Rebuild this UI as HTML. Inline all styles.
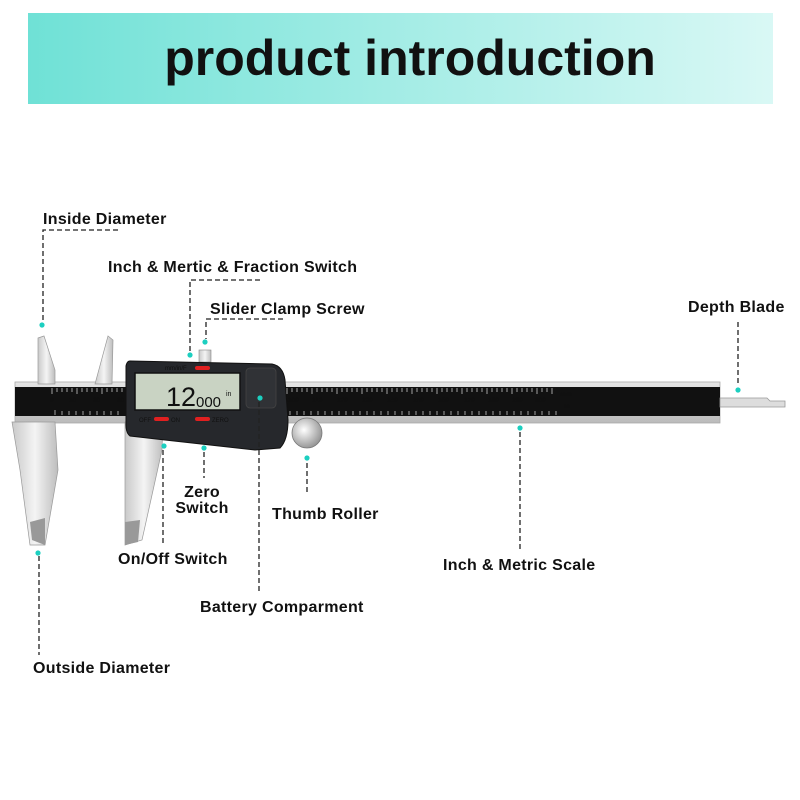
<!DOCTYPE html>
<html><head><meta charset="utf-8"><style>
html,body{margin:0;padding:0;background:#fff;}
svg{display:block}
text{font-family:"Liberation Sans",Arial,sans-serif;font-weight:bold;fill:#111}
</style></head><body>
<svg width="800" height="800" viewBox="0 0 800 800" xmlns="http://www.w3.org/2000/svg">
<defs>
<linearGradient id="hd" x1="0" x2="1" y1="0" y2="0">
<stop offset="0" stop-color="#6fe1d6"/><stop offset="1" stop-color="#d9f8f5"/></linearGradient>
<linearGradient id="met" x1="0" x2="1"><stop offset="0" stop-color="#c9c9c9"/><stop offset="0.5" stop-color="#f4f4f4"/><stop offset="1" stop-color="#bdbdbd"/></linearGradient>
<linearGradient id="metv" x1="0" y1="0" x2="0" y2="1"><stop offset="0" stop-color="#e6e6e6"/><stop offset="1" stop-color="#bbb"/></linearGradient>
<radialGradient id="roll" cx="0.4" cy="0.4" r="0.7"><stop offset="0" stop-color="#fff"/><stop offset="1" stop-color="#888"/></radialGradient>
</defs>
<rect x="28" y="13" width="745" height="91" fill="url(#hd)"/>
<text x="410" y="75" font-size="50" text-anchor="middle" fill="#000">product introduction</text>

<!-- beam -->
<rect x="15" y="382" width="705" height="41" fill="url(#metv)" stroke="#aaa" stroke-width="0.8"/>
<rect x="15" y="387" width="705" height="29" fill="#111"/>
<!-- depth blade -->
<path d="M720 398 L767 398 L770 401 L785 401 L785 407 L720 407 Z" fill="#ddd" stroke="#999" stroke-width="0.8"/>
<!-- scale ticks -->
<g stroke="#ddd" stroke-width="0.7">
<path d="M52 388 V394 M57 388 V392 M62 388 V392 M67 388 V392 M72 388 V392 M77 388 V394 M82 388 V392 M87 388 V392 M92 388 V392 M97 388 V392 M102 388 V394 M107 388 V392 M112 388 V392 M117 388 V392 M122 388 V392"/>
<path d="M287 388 V394 M292 388 V392 M297 388 V392 M302 388 V392 M307 388 V392 M312 388 V394 M317 388 V392 M322 388 V392 M327 388 V392 M332 388 V392 M337 388 V394 M342 388 V392 M347 388 V392 M352 388 V392 M357 388 V392 M362 388 V394 M367 388 V392 M372 388 V392 M377 388 V392 M382 388 V392 M387 388 V394 M392 388 V392 M397 388 V392 M402 388 V392 M407 388 V392 M412 388 V394 M417 388 V392 M422 388 V392 M427 388 V392 M432 388 V392 M437 388 V394 M442 388 V392 M447 388 V392 M452 388 V392 M457 388 V392 M462 388 V394 M467 388 V392 M472 388 V392 M477 388 V392 M482 388 V392 M487 388 V394 M492 388 V392 M497 388 V392 M502 388 V392 M507 388 V392 M512 388 V394 M517 388 V392 M522 388 V392 M527 388 V392 M532 388 V392 M537 388 V394 M542 388 V392 M547 388 V392 M552 388 V394"/>
<path d="M55 415 V410 M62 415 V411 M69 415 V411 M76 415 V411 M83 415 V411 M90 415 V411 M97 415 V411 M104 415 V411 M111 415 V411 M118 415 V411 M290 415 V411 M297 415 V411 M304 415 V411 M311 415 V411 M318 415 V411 M325 415 V411 M332 415 V411 M339 415 V411 M346 415 V411 M353 415 V411 M360 415 V411 M367 415 V411 M374 415 V411 M381 415 V411 M388 415 V411 M395 415 V411 M402 415 V411 M409 415 V411 M416 415 V411 M423 415 V411 M430 415 V411 M437 415 V411 M444 415 V411 M451 415 V411 M458 415 V411 M465 415 V411 M472 415 V411 M479 415 V411 M486 415 V411 M493 415 V411 M500 415 V411 M507 415 V411 M514 415 V411 M521 415 V411 M528 415 V411 M535 415 V411 M542 415 V411 M549 415 V411 M556 415 V411"/>
</g>
<g font-size="6.5" style="font-weight:normal">
<text x="50" y="402" fill="#eee">0</text><text x="69" y="402" fill="#eee">10</text><text x="93" y="402" fill="#eee">20</text><text x="117" y="402" fill="#eee">30</text>
<text x="288" y="402" fill="#eee">100</text><text x="312" y="402" fill="#eee">110</text><text x="337" y="402" fill="#eee">120</text><text x="362" y="402" fill="#eee">130</text><text x="387" y="402" fill="#eee">140</text><text x="413" y="402" fill="#eee">150</text><text x="438" y="402" fill="#eee">160</text><text x="464" y="402" fill="#eee">170</text><text x="488" y="402" fill="#eee">180</text><text x="512" y="402" fill="#eee">190</text><text x="535" y="402" fill="#eee">200</text>
<text x="560" y="396" fill="#eee">mm</text><text x="564" y="408" fill="#eee">in</text>
</g>
<!-- fixed jaw -->
<path d="M38 338 L44 336 L55 370 L55 384 L38 384 Z" fill="url(#met)" stroke="#999" stroke-width="0.7"/>
<path d="M12 422 L55 422 L58 470 L45 545 L30 545 L20 470 Z" fill="url(#met)" stroke="#999" stroke-width="0.7"/>
<path d="M30 522 L45 518 L45 545 L32 540 Z" fill="#999"/>
<!-- slider jaws -->
<path d="M95 384 L108 336 L113 340 L112 384 Z" fill="url(#met)" stroke="#999" stroke-width="0.7"/>
<path d="M125 422 L163 422 L162 450 L142 540 L125 545 Z" fill="url(#met)" stroke="#999" stroke-width="0.7"/>
<path d="M125 522 L140 520 L138 542 L125 545 Z" fill="#999"/>
<!-- clamp screw -->
<rect x="199" y="350" width="12" height="12" fill="url(#met)" stroke="#888" stroke-width="0.6"/>
<!-- display body -->
<path d="M130 361 L272 364 Q283 366 285 380 L288 420 Q288 440 280 448 L255 450 L165 440 L130 436 Q126 433 126 425 L126 366 Q127 361 130 361 Z" fill="#26282c" stroke="#111" stroke-width="1"/>
<rect x="135" y="373" width="105" height="37" fill="#c9d3c3" stroke="#111" stroke-width="1.5"/>
<text x="166" y="406" font-size="27" fill="#111" style="font-weight:normal">12</text>
<text x="196" y="407" font-size="15" fill="#111" style="font-weight:normal">000</text>
<text x="226" y="396" font-size="7" fill="#111" style="font-weight:normal">in</text>
<text x="165" y="370" font-size="6" fill="#ddd" style="font-weight:normal">mm/in/F</text>
<rect x="195" y="366" width="15" height="4" rx="2" fill="#e02020"/>
<text x="139" y="422" font-size="6" fill="#ddd" style="font-weight:normal">OFF</text>
<rect x="154" y="417" width="15" height="4" rx="2" fill="#e02020"/>
<text x="171" y="422" font-size="6" fill="#ddd" style="font-weight:normal">ON</text>
<rect x="195" y="417" width="15" height="4" rx="2" fill="#e02020"/>
<text x="212" y="422" font-size="6" fill="#ddd" style="font-weight:normal">ZERO</text>
<rect x="246" y="368" width="30" height="40" rx="4" fill="#303236" stroke="#444" stroke-width="0.8"/>
<!-- thumb roller -->
<circle cx="307" cy="433" r="15" fill="url(#roll)" stroke="#777" stroke-width="0.8"/>

<!-- dashed leaders -->
<g stroke="#222" stroke-width="1.3" stroke-dasharray="5,3" fill="none">
<path d="M118 230 H43 V322"/>
<path d="M260 280 H190 V352"/>
<path d="M283 319 H206 V339"/>
<path d="M738 322 V386"/>
<path d="M259 402 V592"/>
<path d="M163 450 V543"/>
<path d="M204 452 V478"/>
<path d="M307 463 V495"/>
<path d="M520 432 V550"/>
<path d="M39 556 V655"/>
</g>
<g fill="#1ccfc0">
<circle cx="42" cy="325" r="2.6"/><circle cx="190" cy="355" r="2.6"/><circle cx="205" cy="342" r="2.6"/>
<circle cx="738" cy="390" r="2.6"/><circle cx="260" cy="398" r="2.6"/><circle cx="164" cy="446" r="2.6"/>
<circle cx="204" cy="448" r="2.6"/><circle cx="307" cy="458" r="2.6"/><circle cx="520" cy="428" r="2.6"/>
<circle cx="38" cy="553" r="2.6"/>
</g>
<g font-size="16" letter-spacing="0.3">
<text x="43" y="224">Inside Diameter</text>
<text x="108" y="272">Inch &amp; Mertic &amp; Fraction Switch</text>
<text x="210" y="314">Slider Clamp Screw</text>
<text x="688" y="312">Depth Blade</text>
<text x="202" y="497" text-anchor="middle">Zero</text>
<text x="202" y="513" text-anchor="middle">Switch</text>
<text x="272" y="519">Thumb Roller</text>
<text x="118" y="564">On/Off Switch</text>
<text x="443" y="570">Inch &amp; Metric Scale</text>
<text x="200" y="612">Battery Comparment</text>
<text x="33" y="673">Outside Diameter</text>
</g>
</svg>
</body></html>
